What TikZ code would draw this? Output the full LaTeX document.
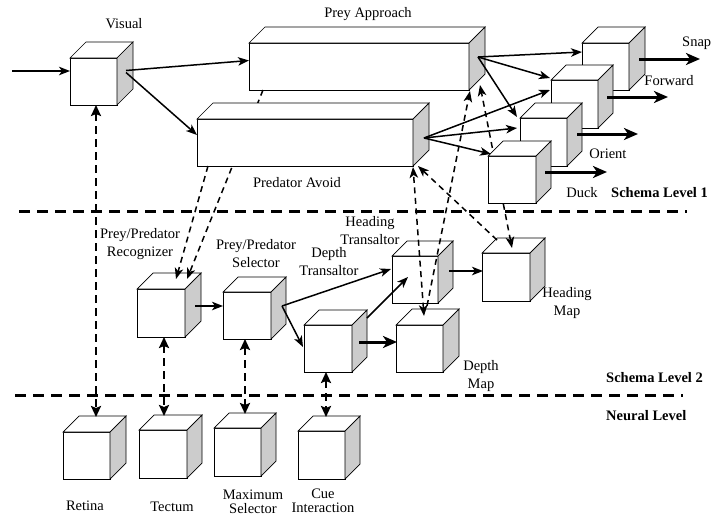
\documentclass[tikz,border=0pt]{standalone}
\usepackage{fontspec}
\setmainfont{Liberation Serif}
\usetikzlibrary{arrows.meta,calc}
\definecolor{sidegray}{HTML}{CCCCCC}
\tikzset{
 cubeline/.style={draw=black, line width=0.7pt, line join=miter},
 arr/.style={line width=1.5pt, -{Stealth[length=11pt,width=8.5pt,inset=3pt]}},
 thickarr/.style={line width=3pt, -{Stealth[length=14pt,width=12pt,inset=4pt]}},
 dasharr/.style={line width=1.5pt, dash pattern=on 6pt off 4.5pt, -{Stealth[length=11pt,width=8.5pt,inset=3pt]}},
 dashboth/.style={line width=1.5pt, dash pattern=on 6pt off 4.5pt, {Stealth[length=11pt,width=8.5pt,inset=3pt]}-{Stealth[length=11pt,width=8.5pt,inset=3pt]}},
 vdash/.style={line width=2.6pt, dash pattern=on 8pt off 5pt, {Stealth[length=11pt,width=10pt,inset=2pt]}-{Stealth[length=11pt,width=10pt,inset=2pt]}},
 levelsep/.style={line width=3pt, dash pattern=on 11pt off 7pt},
 lbl/.style={font=\fontsize{14.5}{18}\selectfont, align=center, inner sep=0pt},
 tightlbl/.style={font=\fontsize{14.5}{14}\selectfont, align=center, inner sep=0pt},
 blbl/.style={font=\fontsize{14.5}{18}\selectfont\bfseries, inner sep=0pt, anchor=west},
}
\newcommand\mycube[6]{%
  \node[cubeline, fill=white, minimum width=#4pt, minimum height=#5pt, inner sep=0pt, outer sep=0pt, anchor=north west] (#1) at (#2,#3) {};
  \draw[cubeline, fill=white] (#1.north west) -- ++(#6,-#6) -- ++(#4,0) -- (#1.north east) -- cycle;
  \draw[cubeline, fill=sidegray] (#1.north east) -- ++(#6,-#6) -- ++(0,#5) -- (#1.south east) -- cycle;
}
\begin{document}
\begin{tikzpicture}[x=1pt,y=-1pt]
\useasboundingbox (0,0) rectangle (713,517);
% level separators
\draw[levelsep] (19,211) -- (687,211);
\draw[levelsep] (15,395) -- (683,395);
% schema level 1
\mycube{vis}{70}{58}{47}{47}{16}
\mycube{prey}{249}{43}{220}{47}{16}
\mycube{rec}{137}{289}{48}{48}{16}
\draw[dasharr] ($(prey.south west)+(14,0)$) -- ($(rec.north)+(26,-10)$);
\mycube{pred}{197}{119}{216}{47}{16}
\mycube{snap}{582}{43}{47}{47}{16}
\mycube{fwd}{551}{80}{47}{48}{15}
\mycube{ori}{520}{118}{47}{48}{15}
% schema level 2 cubes
\mycube{sel}{223}{292}{48}{47}{15}
\mycube{dtr}{304}{325}{48}{47}{15}
\mycube{htr}{392}{256}{46}{47}{15}
\mycube{dmap}{396}{325}{47}{47}{16}
\mycube{hmap}{482}{253}{48}{48}{15}
% heading map <-> prey approach (behind duck)
\draw[dashboth] ($(hmap.north)+(6,-5)$) -- ($(prey.south east)+(11,-5)$);
\mycube{duck}{488}{156}{48}{47}{15}
% other dashed connectors
\draw[dashboth] ($(dmap.north)+(4.5,-9)$) -- ($(pred.south east)+(0,1)$);
\coordinate (bfoot) at ($(htr.south)+(12,3)$);
\draw[dasharr] (bfoot) -- ($(prey.south east)+(1,1)$);
\draw[dasharr] ($(hmap.north west)+(15,-13)$) -- ($(pred.south east)+(5,0)$);
\draw[dasharr] ($(pred.south west)+(11,0)$) -- ($(rec.north)+(15,-10)$);
% input and visual outputs
\coordinate (in) at (12,71);
\draw[arr] (in) -- (in -| vis.west);
\draw[arr] ($(vis.east)+(9,-11)$) -- ($(prey.west)+(0,-6)$);
\draw[arr] ($(vis.east)+(9,-9)$) -- ($(pred.west)+(0,-7.5)$);
% prey approach to actions
\coordinate (pp) at ($(prey.east)+(9,-9.5)$);
\draw[arr] (pp) -- ($(snap.west)+(0,-14.5)$);
\draw[arr] (pp) -- ($(fwd.north west)+(-1,-2)$);
\draw[arr] (pp) -- ($(ori.north west)+(-3,-1)$);
% predator avoid to actions
\coordinate (qq) at ($(pred.east)+(11,-4.5)$);
\draw[arr] (qq) -- ($(fwd.west)+(-1,-14)$);
\draw[arr] (qq) -- ($(ori.west)+(-3,-14)$);
\draw[arr] (qq) -- ($(duck.north west)+(3,-2)$);
% action outputs
\coordinate (osnap) at ($(snap.east)+(71,-7.5)$);
\draw[thickarr] ($(snap.east)+(10,-7.5)$) -- (osnap);
\coordinate (ofwd) at ($(fwd.east)+(70,-7)$);
\draw[thickarr] ($(fwd.east)+(9,-7)$) -- (ofwd);
\coordinate (oori) at ($(ori.east)+(71,-8)$);
\draw[thickarr] ($(ori.east)+(10,-8)$) -- (oori);
\coordinate (oduck) at ($(duck.east)+(71,-7.5)$);
\draw[thickarr] ($(duck.east)+(9,-7.5)$) -- (oduck);
% schema level 2 arrows
\draw[arr] ($(rec.east)+(10,-7)$) -- ($(sel.west)+(0,-9.5)$);
\coordinate (ss) at ($(sel.east)+(11,-9.5)$);
\draw[arr] (ss) -- ($(htr.west)+(-1,-10.5)$);
\draw[arr] (ss) -- ($(dtr.west)+(-1,-1.5)$);
\draw[thickarr] ($(dtr.east)+(7,-6.5)$) -- ($(dmap.west)+(1,-6.5)$);
\draw[arr] ($(dtr.north east)+(15,-7)$) -- ($(htr.center)+(-7,-2.5)$);
\draw[arr] ($(htr.east)+(11,-8.5)$) -- ($(hmap.west)+(1,-6)$);
% neural level
\mycube{ret}{63}{432}{47}{47}{16}
\mycube{tec}{139}{430}{48}{48}{15}
\mycube{max}{214}{428}{47}{48}{15}
\mycube{cue}{298}{431}{47}{48}{15}
\coordinate (rt) at ($(ret.north)+(9.5,-15)$);
\draw[vdash] (rt |- vis.south) -- (rt);
\coordinate (tt) at ($(tec.north)+(1,-14)$);
\draw[vdash] (tt |- rec.south) -- (tt);
\coordinate (mt) at ($(max.north)+(7.5,-14)$);
\draw[vdash] (mt |- sel.south) -- (mt);
\coordinate (ct) at ($(cue.north)+(4.5,-14)$);
\draw[vdash] (ct |- dtr.south) -- (ct);
% labels
\node[lbl] (tvis) at (124,24) {Visual};
\node[lbl] (tprey) at (368,14) {Prey Approach};
\node[lbl] (tpred) at (297,183) {Predator Avoid};
\node[lbl, anchor=west] (tsnap) at (682,43) {Snap};
\node[lbl] (tfwd) at (669,81) {Forward};
\node[lbl] (tori) at (608,154) {Orient};
\node[lbl] (tduck) at (582,193) {Duck};
\node[blbl] (tsl1) at (611,193) {Schema Level 1};
\node[lbl] (trec) at (140,244) {Prey/Predator\\Recognizer};
\node[lbl] (tsel) at (256,254) {Prey/Predator\\Selector};
\node[lbl] (tdtr) at (329,262) {Depth\\Transaltor};
\node[lbl] (thtr) at (370,231) {Heading\\Transaltor};
\node[lbl] (thmap) at (567,303) {Heading\\Map};
\node[lbl] (tdmap) at (481,376) {Depth\\Map};
\node[blbl] (tsl2) at (606,378) {Schema Level 2};
\node[blbl] (tnl) at (606,416) {Neural Level};
\node[lbl] (tret) at (85,506) {Retina};
\node[lbl] (ttec) at (172,507) {Tectum};
\node[tightlbl] (tmax) at (253,502) {Maximum\\Selector};
\node[tightlbl] (tcue) at (323,501) {Cue\\Interaction};
\end{tikzpicture}
\end{document}
